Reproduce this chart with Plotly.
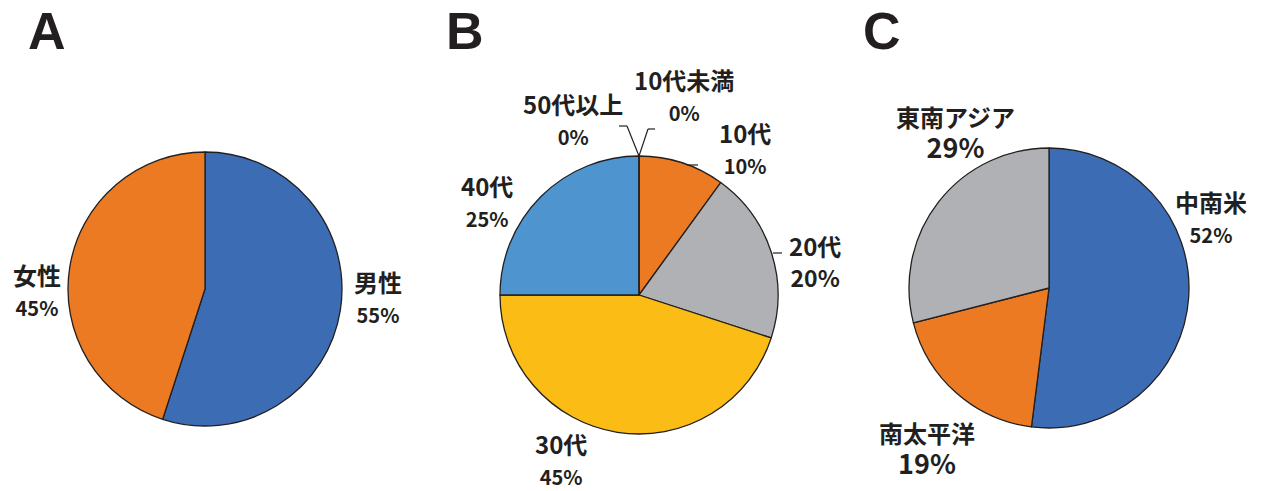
import plotly.graph_objects as go

# ---- data ----
a_labels = ["男性", "女性"]
a_values = [55, 45]
b_labels = ["10代未満", "10代", "20代", "30代", "40代", "50代以上"]
b_values = [0, 10, 20, 45, 25, 0]
c_labels = ["中南米", "南太平洋", "東南アジア"]
c_values = [52, 19, 29]
panel_letters = ["A", "B", "C"]

# ---- styles ----
W, H = 1268, 491
TXT = "#231F20"
FONT = "Noto Sans CJK JP"
a_colors = ["#3C6DB4", "#EC7A23"]
b_colors = ["#EC7A23", "#EC7A23", "#B0B1B4", "#FABC15", "#4E95D0", "#4E95D0"]
c_colors = ["#3C6DB4", "#EC7A23", "#B0B1B4"]


def dom(cx, cy, r):
    return dict(x=[(cx - r) / W, (cx + r) / W], y=[1 - (cy + r) / H, 1 - (cy - r) / H])


def pie(labels, values, colors, d):
    return go.Pie(labels=labels, values=values, sort=False, direction="clockwise",
                  rotation=0, textinfo="none", hoverinfo="label+percent",
                  marker=dict(colors=colors, line=dict(color=TXT, width=1.3)),
                  domain=d, showlegend=False)


fig = go.Figure()
fig.add_trace(pie(a_labels, a_values, a_colors, dom(205, 289, 137)))
fig.add_trace(pie(b_labels, b_values, b_colors, dom(639, 295, 139)))
fig.add_trace(pie(c_labels, c_values, c_colors, dom(1049, 288, 140)))

ann = []


def lab(name, value, x, y, psize=20, size=24):
    text = f"<b>{name}</b><br><b><span style='font-size:{psize}px'>{value}%</span></b>"
    ann.append(dict(text=text, x=x / W, y=1 - y / H, xref="paper", yref="paper",
                    showarrow=False, xanchor="center", yanchor="middle", align="center",
                    font=dict(family=FONT, size=size, color=TXT)))


# panel letters
for L, x in zip(panel_letters, [47, 465, 882]):
    ann.append(dict(text=f"<b>{L}</b>", x=x / W, y=1 - 31 / H, xref="paper", yref="paper",
                    showarrow=False, xanchor="center", yanchor="middle",
                    font=dict(family="Liberation Sans", size=52, color=TXT)))

# A labels (x, center y of the two-line block)
a_pos = [(378, 296), (37, 289)]
for l, v, (x, y) in zip(a_labels, a_values, a_pos):
    lab(l, v, x, y)

# B labels
b_pos = [(684, 95), (745, 147), (815, 261), (561, 458), (487, 201), (573, 119)]
b_pct_size = [20, 20, 23, 20, 20, 20]
for l, v, (x, y), s in zip(b_labels, b_values, b_pos, b_pct_size):
    lab(l, v, x, y, s)

# C labels
c_pos = [(1211, 216), (927, 448), (955, 132)]
c_pct_size = [20, 27, 27]
for l, v, (x, y), s in zip(c_labels, c_values, c_pos, c_pct_size):
    lab(l, v, x, y, s)

# leader lines for B
def seg(x0, y0, x1, y1):
    return dict(type="line", xref="paper", yref="paper", x0=x0 / W, y0=1 - y0 / H,
                x1=x1 / W, y1=1 - y1 / H, line=dict(color=TXT, width=1.2))

shapes = [
    seg(619, 126, 627, 126), seg(627, 126, 639, 156),
    seg(655, 129, 648, 129), seg(648, 129, 639, 156),
    seg(687, 165, 698, 165),
    seg(773, 253, 782, 253),
]

fig.update_layout(width=W, height=H, margin=dict(l=0, r=0, t=0, b=0),
                  paper_bgcolor="white", plot_bgcolor="white",
                  annotations=ann, shapes=shapes)
fig.write_html("out.html")
